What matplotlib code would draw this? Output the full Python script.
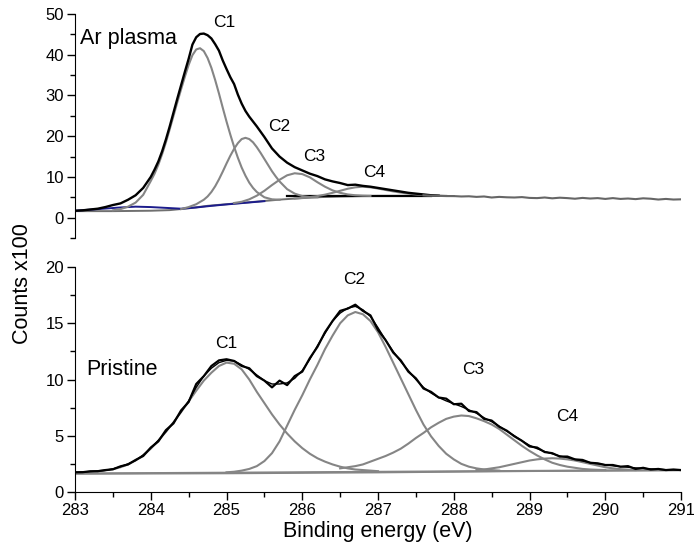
import numpy as np
import matplotlib.pyplot as plt

plt.rcParams['font.family'] = ['Liberation Sans', 'DejaVu Sans']


def grid(*parts):
    # reading positions (eV): pieces of (start, stop, step)
    return np.round(np.concatenate([np.arange(a, b + step / 2, step) for a, b, step in parts]), 3)


# ---------------- Ar plasma (top) ----------------
ar_x = grid((283.0, 283.9, 0.1), (284.0, 285.6, 0.05), (285.7, 287.8, 0.1))
ar_counts = [1.7, 1.8, 2.0, 2.2, 2.6, 3.1, 3.5, 4.4, 5.5, 7.3,
             10.0, 11.8, 13.8, 16.3, 19.2, 22.4, 25.8, 29.2, 32.5, 35.8,
             39.0, 42.5, 44.3, 45.1, 45.2, 44.8, 44.0, 42.6, 41.0, 38.6,
             36.5, 34.5, 32.8, 30.2, 28.0, 26.2, 24.8, 23.6, 22.4, 21.1,
             19.8, 18.4, 17.0,
             15.0, 13.5, 12.4, 11.6, 10.8, 10.2, 9.4, 8.9, 8.5, 8.0,
             8.1, 7.8, 7.6, 7.3, 7.0, 6.7, 6.4, 6.1, 5.9, 5.7, 5.5, 5.4]
# high binding energy tail
ar_tail_x = grid((287.6, 291.0, 0.1))
ar_tail = [5.5, 5.4, 5.35, 5.3, 5.3, 5.2, 5.25, 5.1, 5.2, 4.95,
           5.1, 5.0, 4.95, 5.05, 4.85, 4.8, 4.95, 4.75, 4.9, 4.8,
           4.65, 4.85, 4.7, 4.8, 4.6, 4.8, 4.6, 4.7, 4.55, 4.75,
           4.65, 4.45, 4.6, 4.45, 4.5]

ar_bg_x = [283.0, 283.5, 284.0, 284.25, 284.5, 284.75, 285.0, 285.25, 285.5,
           285.75, 286.0, 286.25, 286.5, 286.75, 287.0, 287.5, 288.0]
ar_bg = [1.6, 1.6, 1.7, 1.85, 2.3, 2.9, 3.3, 3.7, 4.1, 4.5, 4.8, 5.05, 5.2,
         5.3, 5.35, 5.35, 5.3]
ar_bg_flat_x = [285.8, 287.7]
ar_bg_flat = [5.35, 5.35]
ar_blue_x = [283.0, 283.3, 283.6, 283.8, 284.0, 284.2, 284.4, 284.6, 284.8,
             285.0, 285.25, 285.5]
ar_blue = [1.7, 2.1, 2.5, 2.7, 2.6, 2.4, 2.2, 2.5, 2.9, 3.25, 3.65, 4.05]

# fitted components
ar_c1_x = grid((283.5, 283.9, 0.1), (284.0, 285.4, 0.05), (285.5, 285.7, 0.1))
ar_c1 = [1.8, 2.1, 2.7, 3.7, 5.6,
         9.0, 10.8, 13.0, 15.6, 18.5, 21.7, 25.0, 28.3, 31.5, 34.6,
         37.5, 39.9, 41.3, 41.6, 40.9, 39.2, 36.8, 33.8, 30.5, 27.0,
         23.6, 20.4, 17.4, 14.7, 12.3, 10.3, 8.6, 7.3, 6.3,
         5.0, 4.5, 4.4]
ar_c2_x = grid((284.4, 284.7, 0.1), (284.75, 285.7, 0.05), (285.8, 286.2, 0.1))
ar_c2 = [2.1, 2.6, 3.3, 4.4,
         5.2, 6.3, 7.7, 9.4, 11.3, 13.3, 15.2, 16.9, 18.3, 19.3,
         19.6, 19.3, 18.5, 17.3, 15.9, 14.4, 12.9, 11.4, 10.1, 8.9,
         7.0, 5.9, 5.3, 5.05, 5.0]
ar_c3_x = grid((285.1, 286.9, 0.1))
ar_c3 = [3.6, 3.9, 4.5, 5.4, 6.6, 8.0, 9.3, 10.4, 10.9, 10.7, 9.9, 8.7, 7.6,
         6.7, 6.1, 5.7, 5.5, 5.4, 5.35]
ar_c4_x = grid((285.9, 287.9, 0.1))
ar_c4 = [4.7, 4.85, 5.05, 5.3, 5.65, 6.1, 6.6, 7.1, 7.45, 7.6, 7.45, 7.15,
         6.8, 6.45, 6.15, 5.9, 5.7, 5.55, 5.45, 5.4, 5.35]

# ---------------- Pristine (bottom) ----------------
pr_x = grid((283.0, 291.0, 0.1))
pr_raw = [1.75, 1.76, 1.84, 1.85, 1.95, 2.02, 2.28, 2.45, 2.85, 3.2,
          3.95, 4.5, 5.5, 6.1, 7.25, 8.0, 9.6, 10.3, 11.2, 11.7,
          11.8, 11.65, 11.2, 11.0, 10.3, 9.9, 9.3, 9.9, 9.5, 10.3,
          10.7, 11.9, 12.9, 14.2, 15.2, 16.1, 16.3, 16.65, 16.1, 15.7,
          14.4, 13.5, 12.4, 11.7, 10.7, 10.1, 9.2, 8.9, 8.4, 8.3,
          7.8, 7.85, 7.2, 7.1, 6.5, 6.35, 5.8, 5.45, 4.95, 4.55,
          4.05, 3.95, 3.55, 3.45, 3.15, 3.15, 2.9, 2.85, 2.6, 2.55,
          2.4, 2.4, 2.25, 2.3, 2.05, 2.15, 2.0, 2.05, 1.95, 2.0, 1.95]
pr_fit = [1.75, 1.78, 1.82, 1.86, 1.92, 2.05, 2.25, 2.5, 2.8, 3.3,
          3.9, 4.6, 5.35, 6.2, 7.1, 8.1, 9.3, 10.3, 11.0, 11.5,
          11.7, 11.65, 11.3, 10.9, 10.4, 9.9, 9.6, 9.6, 9.7, 10.1,
          10.8, 11.8, 13.0, 14.1, 15.2, 15.9, 16.35, 16.5, 16.2, 15.6,
          14.6, 13.5, 12.5, 11.6, 10.8, 10.0, 9.3, 8.8, 8.4, 8.1,
          7.85, 7.6, 7.3, 7.0, 6.6, 6.25, 5.85, 5.4, 5.0, 4.55,
          4.15, 3.85, 3.6, 3.4, 3.2, 3.05, 2.9, 2.75, 2.62, 2.5,
          2.42, 2.33, 2.26, 2.2, 2.14, 2.1, 2.05, 2.02, 1.98, 1.96, 1.94]
pr_bg_x = [283.0, 285.0, 287.0, 289.0, 291.0]
pr_bg1 = [1.65, 1.72, 1.8, 1.88, 1.95]
pr_bg2 = [1.62, 1.66, 1.74, 1.86, 1.93]

pr_c1_x = grid((283.0, 287.0, 0.1))
pr_c1 = [1.72, 1.75, 1.8, 1.85, 1.92, 2.02, 2.2, 2.45, 2.8, 3.25,
         3.85, 4.55, 5.35, 6.2, 7.1, 8.05, 9.0, 9.9, 10.6, 11.2,
         11.5, 11.4, 10.9, 10.0, 8.9, 7.9, 6.9, 6.0, 5.2, 4.5,
         3.9, 3.4, 3.0, 2.7, 2.45, 2.25, 2.1, 2.0, 1.95, 1.9, 1.85]
pr_c2_x = grid((285.0, 288.6, 0.1))
pr_c2 = [1.75, 1.8, 1.9, 2.05, 2.3, 2.75, 3.45, 4.5, 5.9, 7.3,
         8.6, 10.0, 11.3, 12.7, 13.9, 15.0, 15.7, 16.0, 15.8, 15.2,
         14.2, 12.9, 11.5, 10.1, 8.7, 7.3, 6.0, 4.95, 4.1, 3.4,
         2.9, 2.5, 2.25, 2.1, 2.0, 1.95, 1.9]
pr_c3_x = grid((286.5, 290.0, 0.1))
pr_c3 = [2.1, 2.2, 2.3, 2.45, 2.7, 2.95, 3.2, 3.5, 3.85, 4.3,
         4.8, 5.25, 5.75, 6.15, 6.5, 6.7, 6.8, 6.75, 6.55, 6.3,
         6.0, 5.6, 5.1, 4.6, 4.1, 3.65, 3.25, 2.9, 2.6, 2.4,
         2.25, 2.15, 2.05, 2.0, 1.97, 1.95]
pr_c4_x = grid((288.3, 290.4, 0.1))
pr_c4 = [1.95, 2.0, 2.1, 2.2, 2.35, 2.5, 2.65, 2.8, 2.9, 2.97, 3.0,
         2.97, 2.9, 2.8, 2.65, 2.5, 2.35, 2.2, 2.1, 2.03, 1.98, 1.95]

peak_labels = ['C1', 'C2', 'C3', 'C4']
ar_label_pos = [(284.97, 47.8), (285.70, 22.3), (286.16, 15.0), (286.95, 11.2)]
pr_label_pos = [(284.99, 13.2), (286.69, 18.9), (288.25, 10.9), (289.50, 6.7)]

GRAY = '#858585'
fig = plt.figure(figsize=(6.94, 5.52), dpi=100)
ax1 = fig.add_axes([0.1081, 0.5688, 0.8732, 0.4058])
ax2 = fig.add_axes([0.1081, 0.1087, 0.8732, 0.4076])

# top panel
ax1.plot(ar_bg_x, ar_bg, color='#707070', lw=1.4)
ax1.plot(ar_blue_x, ar_blue, color='#1c1c8c', lw=1.4)
ax1.plot(ar_bg_flat_x, ar_bg_flat, color='black', lw=1.6)
for cx, cy in [(ar_c1_x, ar_c1), (ar_c2_x, ar_c2), (ar_c3_x, ar_c3), (ar_c4_x, ar_c4)]:
    ax1.plot(cx, cy, color=GRAY, lw=1.5)
ax1.plot(ar_x, ar_counts, color='black', lw=1.7)
ax1.plot(ar_tail_x, ar_tail, color='#666666', lw=1.5)

# bottom panel
ax2.plot(pr_bg_x, pr_bg1, color=GRAY, lw=1.4)
ax2.plot(pr_bg_x, pr_bg2, color=GRAY, lw=1.4)
for cx, cy in [(pr_c1_x, pr_c1), (pr_c2_x, pr_c2), (pr_c3_x, pr_c3), (pr_c4_x, pr_c4)]:
    ax2.plot(cx, cy, color=GRAY, lw=1.5)
ax2.plot(pr_x, pr_fit, color='black', lw=1.0)
ax2.plot(pr_x, pr_raw, color='black', lw=1.6)

for ax in (ax1, ax2):
    ax.set_xlim(283, 291)
    ax.spines['top'].set_visible(False)
    ax.spines['right'].set_visible(False)
    ax.tick_params(direction='out', length=6, width=1, labelsize=12, pad=2)
    ax.tick_params(which='minor', direction='out', length=3.5, width=1)

ax1.set_ylim(-5, 50)
ax1.set_yticks([0, 10, 20, 30, 40, 50])
ax1.set_yticks([-5, 5, 15, 25, 35, 45], minor=True)
ax1.spines['bottom'].set_visible(False)
ax1.set_xticks([])

ax2.set_ylim(0, 20)
ax2.set_yticks([0, 5, 10, 15, 20])
ax2.set_yticks([2.5, 7.5, 12.5, 17.5], minor=True)
ax2.set_xticks(range(283, 292))
ax2.set_xticks(np.arange(283.5, 291, 1.0), minor=True)

ax1.text(283.07, 42.6, 'Ar plasma', fontsize=15.5, ha='left', va='baseline')
ax2.text(283.15, 10.4, 'Pristine', fontsize=15.5, ha='left', va='baseline')
for lab, (px, py) in zip(peak_labels, ar_label_pos):
    ax1.text(px, py, lab, fontsize=12.5, ha='center', va='center')
for lab, (px, py) in zip(peak_labels, pr_label_pos):
    ax2.text(px, py, lab, fontsize=12.5, ha='center', va='center')

fig.text(0.032, 0.487, 'Counts x100', rotation=90, fontsize=15.5, ha='center', va='center')
fig.text(378 / 694, 1 - 531 / 552, 'Binding energy (eV)', fontsize=15.5, ha='center', va='center')

plt.savefig('out.png', dpi=100)
